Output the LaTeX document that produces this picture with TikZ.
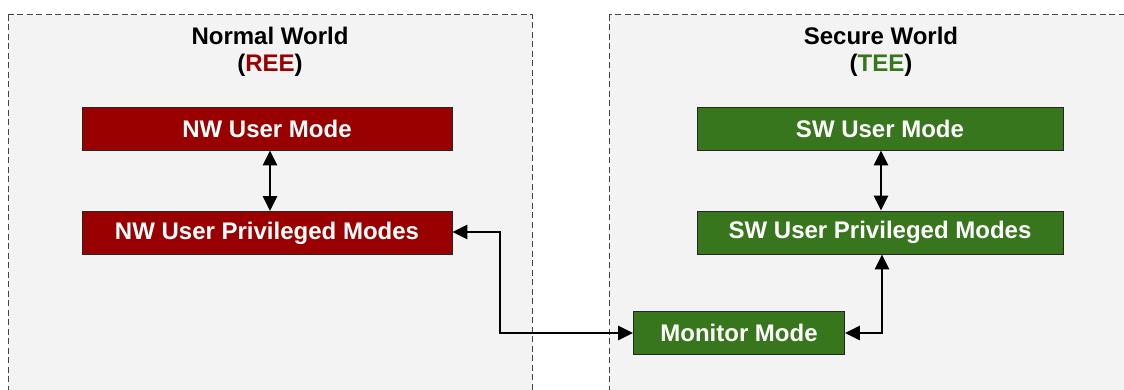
\documentclass[tikz,border=0pt]{standalone}
\usepackage{fontspec}
\setmainfont{Liberation Sans}
\usetikzlibrary{arrows.meta}
\definecolor{panelbg}{HTML}{F3F3F3}
\definecolor{reered}{HTML}{990000}
\definecolor{teegreen}{HTML}{38761D}
\definecolor{dashgray}{HTML}{444444}
\tikzset{
  panel/.style={fill=panelbg, draw=dashgray, line width=1pt, dash pattern=on 6pt off 3.5pt},
  modebox/.style={draw=black!85, line width=0.8pt, text=white, font=\fontsize{24}{28}\selectfont\bfseries,
    minimum height=43pt, inner sep=0pt},
  redbox/.style={modebox, fill=reered, minimum width=370pt},
  greenbox/.style={modebox, fill=teegreen, minimum width=366pt},
  title/.style={font=\fontsize{24}{27}\selectfont\bfseries, align=center, inner sep=0pt},
  link/.style={draw=black, line width=2.4pt, {Triangle[length=15pt,width=14pt]}-{Triangle[length=15pt,width=14pt]}}
}
\begin{document}
\begin{tikzpicture}[x=1pt, y=-1pt]
  \useasboundingbox (0,0) rectangle (1124,390);
  \fill[white] (0,0) rectangle (1124,390);
  \begin{scope}
    \clip (0,0) rectangle (1124,390);
    \draw[panel] (8,15) rectangle (532,420);
    \draw[panel] (609,15) rectangle (1160,420);
  \end{scope}

  % world titles
  \node[title] (nwtitle) at (270,52) {Normal World\\(\textcolor{reered}{REE})};
  \node[title] (swtitle) at (881,52) {Secure World\\(\textcolor{teegreen}{TEE})};

  % normal world modes
  \node[redbox] (nwuser) at (267,128.5) {NW User Mode};
  \node[redbox] (nwpriv) at (267,233) {NW User Privileged Modes};

  % secure world modes
  \node[greenbox] (swuser) at (880,128.5) {SW User Mode};
  \node[greenbox] (swpriv) at (880,232.5) {SW User Privileged Modes};

  % monitor
  \node[modebox, fill=teegreen, minimum width=211pt] (mon) at (739,333) {Monitor Mode};

  \coordinate (nwbend) at (500,232);
  \coordinate (swbend) at (882,333);

  \draw[link] (nwuser.south -| 270,0) -- (nwpriv.north -| 270,0);
  \draw[link] (swuser.south -| 881,0) -- (swpriv.north -| 881,0);
  \draw[link] (nwpriv.east |- nwbend) -- (nwbend) |- (mon.west);
  \draw[link] (mon.east) -- (swbend) -- (swbend |- swpriv.south);
\end{tikzpicture}
\end{document}
